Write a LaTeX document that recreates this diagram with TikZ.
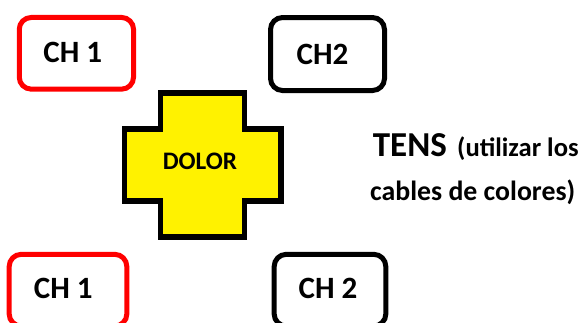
\documentclass[tikz,border=0pt]{standalone}
\usepackage{fontspec}
\setmainfont{Carlito}
\begin{document}
\begin{tikzpicture}[x=1pt,y=-1pt,
  chbox/.style={draw, line width=5pt, rounded corners=12pt, inner sep=0pt},
  chtext/.style={font=\bfseries\fontsize{31}{36}\selectfont, inner sep=0pt},
  notetext/.style={font=\bfseries\fontsize{27.8}{33}\selectfont, inner sep=0pt, anchor=base west}]
\useasboundingbox (0,0) rectangle (582,322);

% channel boxes
\node[chbox, red,   minimum width=114.3pt, minimum height=71.7pt] (ch1top) at (76.4,53.3) {};
\node[chbox, black, minimum width=114pt,   minimum height=73pt]   (ch2top) at (327.5,54) {};
\node[chbox, red,   minimum width=117.6pt, minimum height=71.7pt] (ch1bot) at (68,290.2) {};
\node[chbox, black, minimum width=111.6pt, minimum height=71.7pt] (ch2bot) at (330,290.2) {};

\node[chtext] (ch1toplbl) at (72.8,52.2) {CH 1};
\node[chtext] (ch2toplbl) at (322.5,54.5) {CH2};
\node[chtext] (ch1botlbl) at (63.3,288.8) {CH 1};
\node[chtext] (ch2botlbl) at (328,288.8) {CH 2};

% pain area: yellow cross
\draw[fill=yellow, line width=5.5pt]
  (124.5,128.8) -- (160.5,128.8) -- (160.5,92.8) -- (244.5,92.8) -- (244.5,128.8)
  -- (281,128.8) -- (281,201) -- (244.5,201) -- (244.5,237) -- (160.5,237)
  -- (160.5,201) -- (124.5,201) -- cycle;
\node[font=\bfseries\fontsize{25.2}{30}\selectfont, inner sep=0pt] (dolor) at (200,161.7) {DOLOR};

% TENS note
\node[inner sep=0pt, anchor=base west, font=\bfseries\fontsize{35}{42}\selectfont] (tens) at (372.7,156) {TENS};
\node[notetext, font=\bfseries\fontsize{26.6}{32}\selectfont] (note1) at (457,156) {(utilizar los};
\node[notetext] (note2) at (370,200) {cables de colores)};
\end{tikzpicture}
\end{document}
